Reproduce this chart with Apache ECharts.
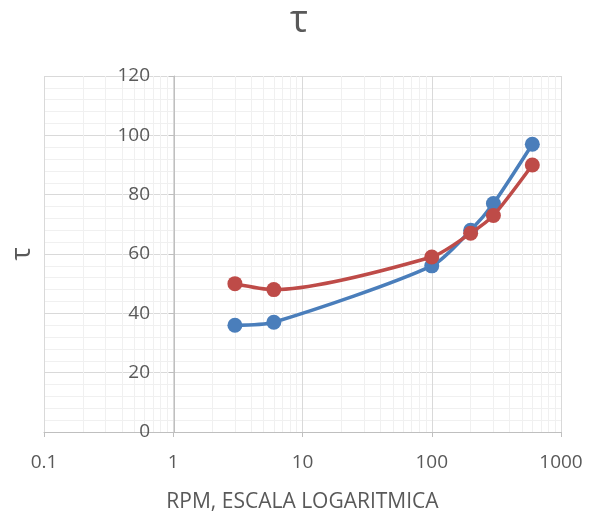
<!DOCTYPE html>
<html>
<head>
<meta charset="utf-8">
<script src="https://cdn.jsdelivr.net/npm/echarts@6/dist/echarts.min.js"></script>
<style>html,body{margin:0;padding:0;background:#fff}#c{width:598px;height:516px}</style>
</head>
<body>
<div id="c"></div>
<script>
const rpm = [3, 6, 100, 200, 300, 600];
const tauBlue = [36, 37, 56, 68, 77, 97];
const tauRed = [50, 48, 59, 67, 73, 90];
const xMinorGrid = [0.2,0.3,0.4,0.5,0.6,0.7,0.8,0.9, 2,3,4,5,6,7,8,9, 20,30,40,50,60,70,80,90, 200,300,400,500,600,700,800,900];
const titleText = 'τ';
const yName = 'τ';
const xName = 'RPM, ESCALA LOGARITMICA';

const FONT = '"Open Sans", sans-serif';
const TXT = '#595959';
const chart = echarts.init(document.getElementById('c'), null, {renderer: 'canvas'});
chart.setOption({
  backgroundColor: '#fff',
  animation: false,
  title: {
    text: titleText, left: 'center', top: -3,
    textStyle: {fontFamily: FONT, fontSize: 38, fontWeight: 'normal', color: TXT}
  },
  grid: {left: 44, right: 37, top: 76, bottom: 84, containLabel: false, outerBoundsMode: 'none'},
  xAxis: {
    type: 'log', logBase: 10, min: 0.1, max: 1000,
    name: xName, nameLocation: 'middle', nameGap: 60,
    nameTextStyle: {fontFamily: FONT, fontSize: 21, color: TXT},
    axisLine: {show: true, lineStyle: {color: '#bfbfbf', width: 1}},
    axisTick: {show: true, length: 5, lineStyle: {color: '#bfbfbf'}},
    axisLabel: {fontFamily: FONT, fontSize: 19, color: TXT, margin: 21,
      formatter: v => String(v)},
    splitLine: {show: true, lineStyle: {color: '#d9d9d9', width: 1}}
  },
  yAxis: {
    type: 'value', min: 0, max: 120, interval: 20,
    position: 'left', offset: -130,
    name: yName, nameLocation: 'middle', nameGap: 138, nameRotate: 90,
    nameTextStyle: {fontFamily: FONT, fontSize: 28, color: TXT},
    axisLine: {show: true, lineStyle: {color: '#bfbfbf', width: 1}},
    axisTick: {show: true, length: 5, lineStyle: {color: '#bfbfbf'}},
    axisLabel: {fontFamily: FONT, fontSize: 19, color: TXT, margin: 24},
    splitLine: {show: true, lineStyle: {color: '#d9d9d9', width: 1}},
    minorTick: {show: false, splitNumber: 5},
    minorSplitLine: {show: true, lineStyle: {color: '#f0f0f0', width: 1}}
  },
  series: [
    {
      type: 'line', data: [], silent: true, z: 0,
      markLine: {
        silent: true, symbol: 'none', label: {show: false}, z: 0,
        lineStyle: {color: '#f0f0f0', width: 1, type: 'solid'},
        emphasis: {disabled: true},
        data: xMinorGrid.map(v => ({xAxis: v}))
      }
    },
    {
      name: 'A', type: 'line', smooth: 0.25,
      data: rpm.map((r, i) => [r, tauBlue[i]]),
      symbol: 'circle', symbolSize: 15,
      lineStyle: {color: '#4a7ebb', width: 3.5},
      itemStyle: {color: '#4a7ebb'}, z: 3
    },
    {
      name: 'B', type: 'line', smooth: 0.25,
      data: rpm.map((r, i) => [r, tauRed[i]]),
      symbol: 'circle', symbolSize: 15,
      lineStyle: {color: '#be4b48', width: 3.5},
      itemStyle: {color: '#be4b48'}, z: 4
    }
  ]
});
</script>
</body>
</html>
